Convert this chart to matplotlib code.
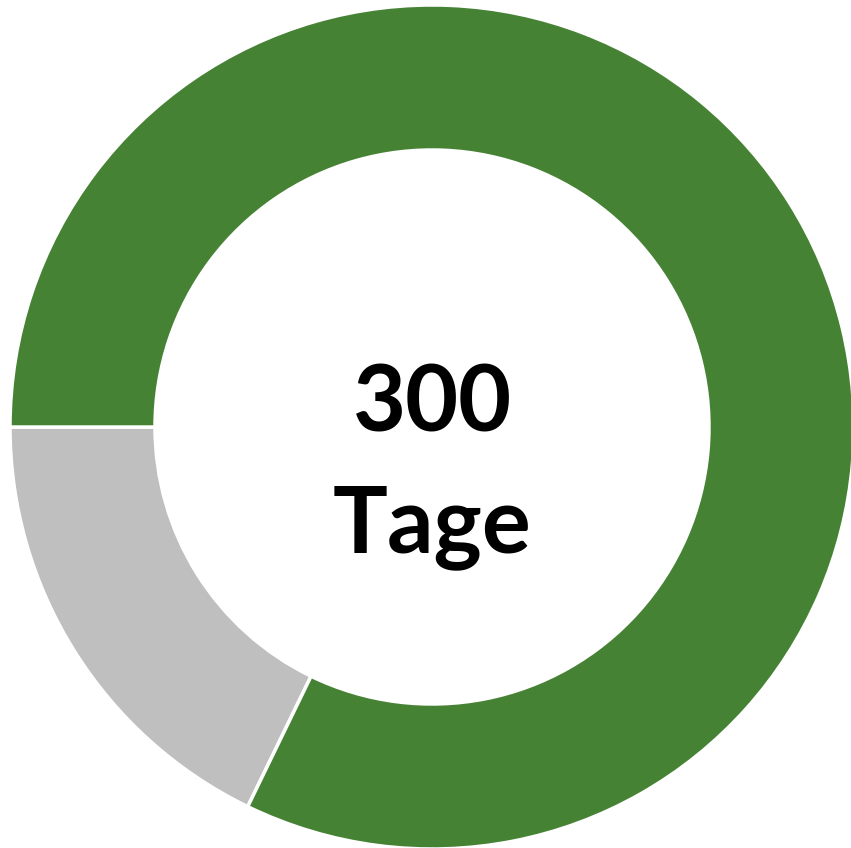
import matplotlib
matplotlib.use('Agg')
import matplotlib.pyplot as plt

# days of the year
labels = ['Rest', 'Tage']
days = [65, 300]
colors = ['#bfbfbf', '#468234']
center_lines = ['300', 'Tage']

W, H = 851, 848
fig = plt.figure(figsize=(W / 100, H / 100), dpi=100)
ax = fig.add_axes([0, 0, 1, 1])
ax.set_xlim(0, W)
ax.set_ylim(0, H)
ax.set_aspect('equal')
ax.axis('off')

cx, cy = 432, H - 427
ax.pie(days, colors=colors, startangle=180, counterclock=True,
       center=(cx, cy), radius=422, frame=True,
       wedgeprops=dict(width=145, edgecolor='white', linewidth=2.5))
ax.set_xlim(0, W)
ax.set_ylim(0, H)
ax.axis('off')

ax.text(cx, H - 432, center_lines[0], ha='center', va='baseline',
        fontsize=66, fontweight='bold', family='Lato', color='black')
ax.text(cx, H - 552, center_lines[1], ha='center', va='baseline',
        fontsize=66, fontweight='bold', family='Lato', color='black')

fig.savefig('out.png', dpi=100)
